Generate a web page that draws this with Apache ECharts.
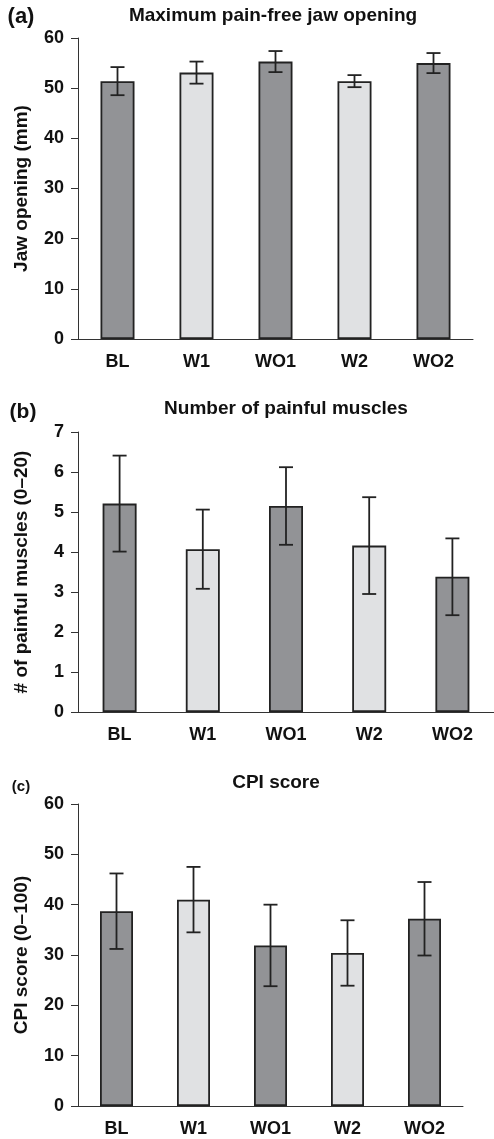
<!DOCTYPE html>
<html>
<head>
    <meta charset='utf-8'>
    <script src="https://cdn.jsdelivr.net/npm/echarts@6/dist/echarts.min.js"></script>
</head>
<body>
<style>
    html, body, #main {
        width: 100%;
        height: 100%;
        margin: 0;
        padding: 0;
        background: #fff;
    }
</style>
<div id="main"></div>
<script>
    var categories = ['BL', 'W1', 'WO1', 'W2', 'WO2'];

    // (a) maximum pain-free jaw opening, mm
    var jawMean = [51.4, 53.1, 55.3, 51.4, 55.0];
    var jawErr = [2.8, 2.2, 2.1, 1.2, 2.0];

    // (b) number of painful muscles
    var muscleMean = [5.21, 4.07, 5.15, 4.16, 3.38];
    var muscleErr = [1.2, 0.99, 0.97, 1.21, 0.96];

    // (c) CPI score
    var cpiMean = [38.7, 41.0, 31.9, 30.4, 37.2];
    var cpiErr = [7.5, 6.5, 8.1, 6.5, 7.3];

    var font = 'Liberation Sans, Arial, sans-serif';
    var ink = '#222';

    var chart = echarts.init(document.getElementById('main'));

    window.onresize = function () {
        chart.resize();
    };

    function barColor(p) {
        return p.dataIndex % 2 === 0 ? '#929396' : '#e0e1e3';
    }

    function errorItem(params, api) {
        var x = api.value(0);
        var lo = api.coord([x, api.value(1)]);
        var hi = api.coord([x, api.value(2)]);
        var half = 7;
        var style = {stroke: ink, lineWidth: 1.8};
        return {
            type: 'group',
            children: [
                {type: 'line', shape: {x1: lo[0], y1: lo[1], x2: hi[0], y2: hi[1]}, style: style},
                {type: 'line', shape: {x1: lo[0] - half, y1: lo[1], x2: lo[0] + half, y2: lo[1]}, style: style},
                {type: 'line', shape: {x1: hi[0] - half, y1: hi[1], x2: hi[0] + half, y2: hi[1]}, style: style}
            ]
        };
    }

    function errorData(mean, err) {
        return mean.map(function (m, i) {
            return [i, m - err[i], m + err[i]];
        });
    }

    function xAxis(idx) {
        return {
            type: 'category',
            gridIndex: idx,
            data: categories,
            axisLine: {lineStyle: {color: '#333', width: 1}},
            axisTick: {length: 7, lineStyle: {color: '#333'}},
            axisLabel: {
                color: '#111', fontFamily: font, fontWeight: 'bold',
                fontSize: 18, margin: 14
            }
        };
    }

    function yAxis(idx, max, interval, name) {
        return {
            type: 'value',
            gridIndex: idx,
            min: 0,
            max: max,
            interval: interval,
            name: name,
            nameLocation: 'middle',
            nameGap: 47,
            nameTextStyle: {
                color: '#111', fontFamily: font, fontWeight: 'bold', fontSize: 19
            },
            splitLine: {show: false},
            axisLine: {show: true, lineStyle: {color: '#333', width: 1}},
            axisTick: {show: true, length: 7, lineStyle: {color: '#333'}},
            axisLabel: {
                color: '#111', fontFamily: font, fontWeight: 'bold',
                fontSize: 18, margin: 14
            }
        };
    }

    function barSeries(idx, mean, width) {
        return {
            type: 'bar',
            xAxisIndex: idx,
            yAxisIndex: idx,
            data: mean,
            barWidth: width,
            itemStyle: {color: barColor, borderColor: ink, borderWidth: 1.8},
            silent: true
        };
    }

    function errSeries(idx, mean, err) {
        return {
            type: 'custom',
            xAxisIndex: idx,
            yAxisIndex: idx,
            data: errorData(mean, err),
            encode: {x: 0, y: [1, 2]},
            renderItem: errorItem,
            z: 5,
            silent: true
        };
    }

    function titleText(text, left, top, size) {
        return {
            text: text,
            left: left,
            top: top,
            textAlign: 'center',
            padding: 0,
            textStyle: {color: '#111', fontFamily: font, fontWeight: 'bold', fontSize: size}
        };
    }

    chart.setOption({
        animation: false,
        title: [
            titleText('Maximum pain-free jaw opening', 273, 6, 19),
            titleText('(a)', 21, 6, 22),
            titleText('Number of painful muscles', 286, 399, 19),
            titleText('(b)', 23, 402, 21),
            titleText('CPI score', 276, 773, 19),
            titleText('(c)', 21, 779, 15)
        ],
        grid: [
            {left: 78, top: 38, width: 395, height: 301},
            {left: 78, top: 432, width: 417, height: 280},
            {left: 78, top: 804, width: 385, height: 302}
        ],
        xAxis: [xAxis(0), xAxis(1), xAxis(2)],
        yAxis: [
            yAxis(0, 60, 10, 'Jaw opening (mm)'),
            yAxis(1, 7, 1, '# of painful muscles (0\u201320)'),
            yAxis(2, 60, 10, 'CPI score (0\u2013100)')
        ],
        series: [
            barSeries(0, jawMean, 34),
            errSeries(0, jawMean, jawErr),
            barSeries(1, muscleMean, 34),
            errSeries(1, muscleMean, muscleErr),
            barSeries(2, cpiMean, 33),
            errSeries(2, cpiMean, cpiErr)
        ]
    });
</script>
</body>
</html>
